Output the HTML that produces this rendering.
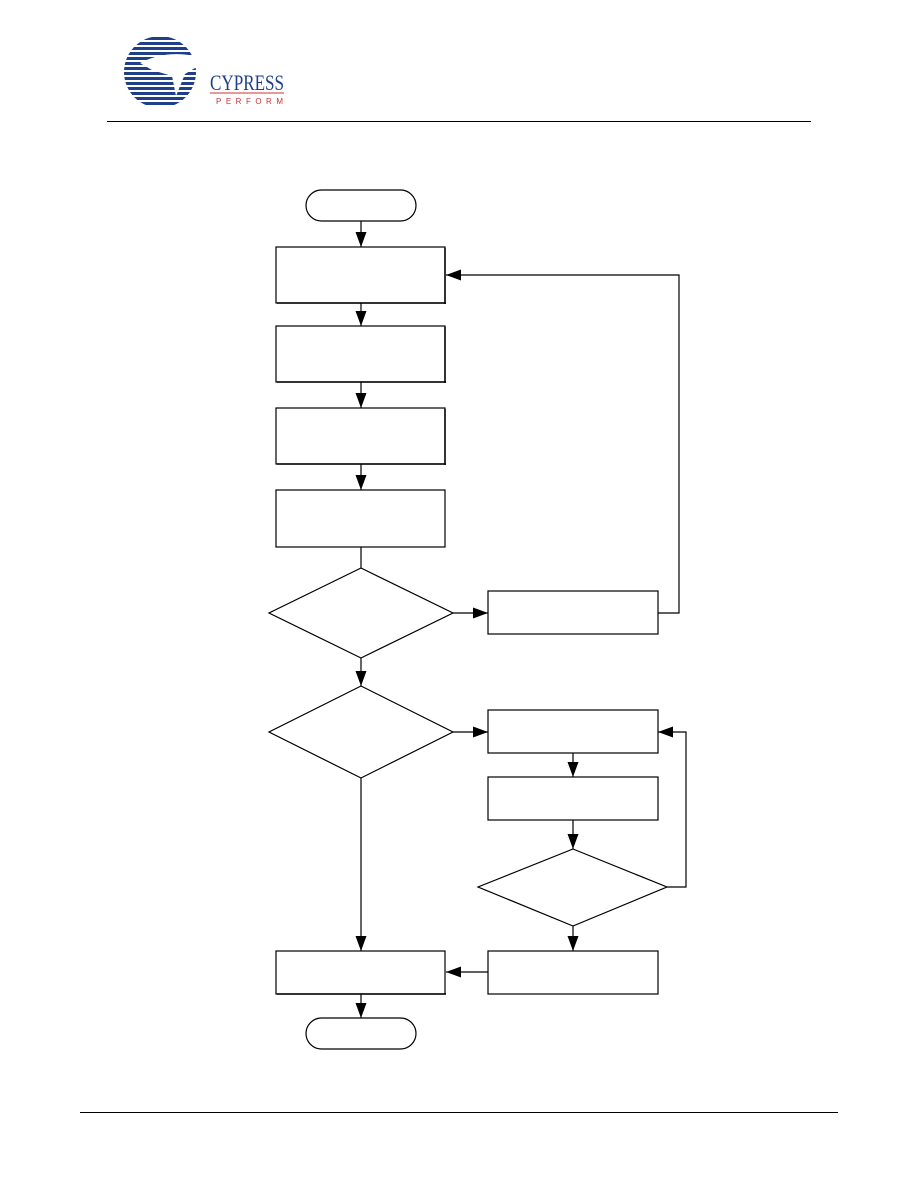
<!DOCTYPE html>
<html><head><style>html,body{margin:0;padding:0;background:#fff;width:918px;height:1188px;overflow:hidden}</style></head>
<body>
<svg width="918" height="1188" viewBox="0 0 918 1188" xmlns="http://www.w3.org/2000/svg">
<defs>
<marker id="b" markerWidth="16" markerHeight="12" refX="15" refY="5.5" orient="auto" markerUnits="userSpaceOnUse" viewBox="0 0 16 12"><path d="M0,0 L15,5.5 L0,11 z" fill="#000"/></marker>
<clipPath id="c"><circle cx="160" cy="72" r="36"/></clipPath>
</defs>
<!-- logo -->
<g clip-path="url(#c)" fill="#1f3f8a">
<rect x="120" y="37" width="80" height="3"/><rect x="120" y="42" width="80" height="3"/><rect x="120" y="47" width="80" height="3"/><rect x="120" y="52" width="80" height="3"/><rect x="120" y="57" width="80" height="3"/><rect x="120" y="62" width="80" height="3"/><rect x="120" y="67" width="80" height="3"/><rect x="120" y="72" width="80" height="3"/><rect x="120" y="77" width="80" height="3"/><rect x="120" y="82" width="80" height="3"/><rect x="120" y="87" width="80" height="3"/><rect x="120" y="92" width="80" height="3"/><rect x="120" y="97" width="80" height="3"/><rect x="120" y="102" width="80" height="3"/>
</g>
<path d="M140,63 Q165,50 195,56 L212,62 L206,70 L195,68 L185,74 L176,96 L172,76 L152,70 Z" fill="#fff"/>
<text x="210" y="90" font-family="Liberation Serif, serif" font-size="22" fill="#1f3f8a" textLength="74" lengthAdjust="spacingAndGlyphs">CYPRESS</text>
<line x1="210" y1="93" x2="284" y2="93" stroke="#c33" stroke-width="1"/>
<text x="216" y="104" font-family="Liberation Sans, sans-serif" font-size="8" fill="#c33" letter-spacing="4.5">PERFORM</text>
<line x1="107" y1="121.5" x2="811" y2="121.5" stroke="#000" stroke-width="1"/>
<line x1="80" y1="1112.5" x2="838" y2="1112.5" stroke="#000" stroke-width="1"/>

<g fill="none" stroke="#000" stroke-width="1.2">
<rect x="306" y="190" width="110" height="31" rx="15.5"/>
<rect x="306" y="1018" width="110" height="31" rx="15.5"/>
<rect x="276" y="247" width="169" height="56"/>
<rect x="276" y="326" width="169" height="56"/>
<rect x="276" y="408" width="169" height="56"/>
<rect x="276" y="490" width="169" height="57"/>
<rect x="276" y="951" width="169" height="43"/>
<rect x="488" y="591" width="170" height="43"/>
<rect x="488" y="710" width="170" height="43"/>
<rect x="488" y="777" width="170" height="43"/>
<rect x="488" y="951" width="170" height="43"/>
<polygon points="361,568 453,613 361,658 269,613"/>
<polygon points="361,686 453,732 361,778 269,732"/>
<polygon points="573,849 667,887 573,926 478,887"/>
</g>
<g stroke="#000" stroke-width="1.5" fill="none">
<line x1="277" y1="303" x2="446" y2="303"/><line x1="445" y1="248" x2="445" y2="304"/>
<line x1="277" y1="382" x2="446" y2="382"/><line x1="445" y1="327" x2="445" y2="383"/>
<line x1="277" y1="464" x2="446" y2="464"/><line x1="445" y1="409" x2="445" y2="465"/>
<line x1="277" y1="994" x2="446" y2="994"/>
</g>
<g stroke="#000" stroke-width="1.2" fill="none">
<line x1="361" y1="221" x2="361" y2="247" marker-end="url(#b)"/>
<line x1="361" y1="303" x2="361" y2="326" marker-end="url(#b)"/>
<line x1="361" y1="382" x2="361" y2="408" marker-end="url(#b)"/>
<line x1="361" y1="464" x2="361" y2="490" marker-end="url(#b)"/>
<line x1="361" y1="547" x2="361" y2="568"/>
<line x1="361" y1="658" x2="361" y2="686" marker-end="url(#b)"/>
<line x1="453" y1="613" x2="488" y2="613" marker-end="url(#b)"/>
<polyline points="658,613 679,613 679,275 446,275" marker-end="url(#b)"/>
<line x1="453" y1="732" x2="488" y2="732" marker-end="url(#b)"/>
<line x1="573" y1="753" x2="573" y2="777" marker-end="url(#b)"/>
<line x1="573" y1="820" x2="573" y2="849" marker-end="url(#b)"/>
<polyline points="667,887 686,887 686,732 658,732" marker-end="url(#b)"/>
<line x1="573" y1="926" x2="573" y2="951" marker-end="url(#b)"/>
<line x1="488" y1="972" x2="446" y2="972" marker-end="url(#b)"/>
<line x1="361" y1="778" x2="361" y2="951" marker-end="url(#b)"/>
<line x1="361" y1="994" x2="361" y2="1018" marker-end="url(#b)"/>
</g>
</svg>
</body></html>
